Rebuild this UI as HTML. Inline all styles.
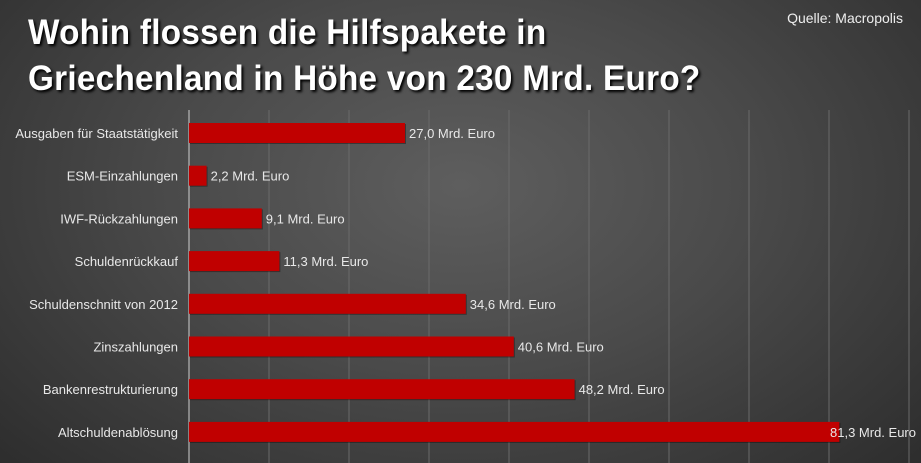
<!DOCTYPE html>
<html><head><meta charset="utf-8"><style>
body{margin:0;width:921px;height:463px;overflow:hidden;background:radial-gradient(ellipse 70% 90% at 50% 40%,#5e5e5e 0%,#4a4a4a 45%,#2c2c2c 100%);font-family:"Liberation Sans",sans-serif;}
#title{position:absolute;left:28px;top:10px;color:#fff;font-weight:bold;font-size:35px;line-height:46px;letter-spacing:0.3px;text-shadow:2px 2px 3px #000;margin:0;transform:scaleX(0.95);transform-origin:0 0;white-space:nowrap;}
#source{position:absolute;right:18px;top:10px;color:#eee;font-size:14px;}
svg{position:absolute;left:0;top:0}
text{font-family:"Liberation Sans",sans-serif;font-size:13px;fill:#e8e8e8}
</style></head><body>
<h1 id="title">Wohin flossen die Hilfspakete in<br>Griechenland in Höhe von 230 Mrd. Euro?</h1>
<div id="source">Quelle: Macropolis</div>
<svg id="chart" width="921" height="463"></svg>
<script>
const categories=["Ausgaben für Staatstätigkeit","ESM-Einzahlungen","IWF-Rückzahlungen","Schuldenrückkauf","Schuldenschnitt von 2012","Zinszahlungen","Bankenrestrukturierung","Altschuldenablösung"];
const values=[27.0,2.2,9.1,11.3,34.6,40.6,48.2,81.3];
const valueLabels=["27,0 Mrd. Euro","2,2 Mrd. Euro","9,1 Mrd. Euro","11,3 Mrd. Euro","34,6 Mrd. Euro","40,6 Mrd. Euro","48,2 Mrd. Euro","81,3 Mrd. Euro"];
const gridTicks=[0,10,20,30,40,50,60,70,80,90];
const NS="http://www.w3.org/2000/svg";
const svg=document.getElementById('chart');
const x=v=>189+v*8.0;
const yc=i=>133+i*42.7;
function mk(t,a){const e=document.createElementNS(NS,t);for(const k in a)e.setAttribute(k,a[k]);svg.appendChild(e);return e;}
gridTicks.forEach((t,i)=>{
 const l=mk('line',{x1:x(t),x2:x(t),y1:110,y2:463,stroke:i===0?'#cfcfcf':'#6a6a6a','stroke-width':1});
 
 
});
categories.forEach((c,i)=>{
 const lab=mk('text',{x:178,y:yc(i)+5,'text-anchor':'end'});lab.textContent=c;
 
 
 const sh=mk('rect',{x:x(0)+1,y:yc(i)-9,width:x(values[i])-x(0),height:20,fill:'rgba(0,0,0,0.35)'});
 
 
 const b=mk('rect',{x:x(0),y:yc(i)-10,width:x(values[i])-x(0),height:20,fill:'#c00000'});
 
 
 let lx=x(values[i])+4, anchor='start';
 if(lx+90>921){lx=916;anchor='end';}
 const v=mk('text',{x:lx,y:yc(i)+5,'text-anchor':anchor});v.textContent=valueLabels[i];
 
 
});
</script>
</body></html>
